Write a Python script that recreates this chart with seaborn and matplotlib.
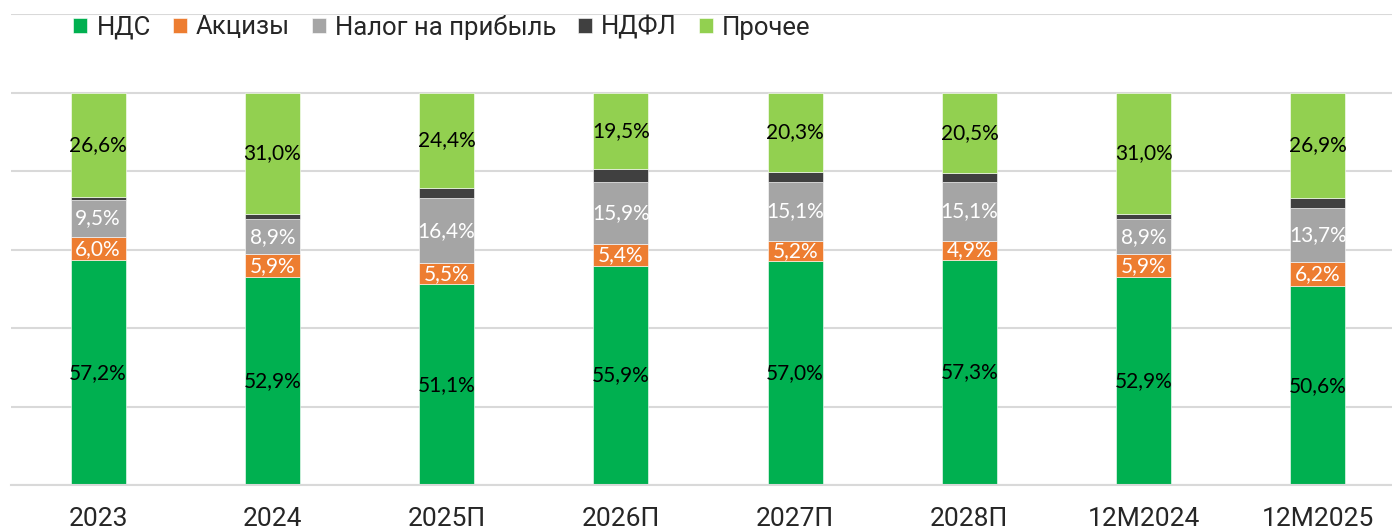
import numpy as np
import pandas as pd
import matplotlib
matplotlib.use("Agg")
import matplotlib.pyplot as plt
from matplotlib import font_manager
import seaborn as sns

# data
categories = ["2023", "2024", "2025П", "2026П", "2027П", "2028П", "12М2024", "12М2025"]
nds = [57.2, 52.9, 51.1, 55.9, 57.0, 57.3, 52.9, 50.6]
akcizy = [6.0, 5.9, 5.5, 5.4, 5.2, 4.9, 5.9, 6.2]
nalog = [9.5, 8.9, 16.4, 15.9, 15.1, 15.1, 8.9, 13.7]
ndfl = [0.7, 1.3, 2.6, 3.3, 2.4, 2.2, 1.3, 2.6]
prochee = [26.6, 31.0, 24.4, 19.5, 20.3, 20.5, 31.0, 26.9]
series_names = ["НДС", "Акцизы", "Налог на прибыль", "НДФЛ", "Прочее"]

sns.set_style("white")
names = {f.name for f in font_manager.fontManager.ttflist}
narrow = "Liberation Sans Narrow" if "Liberation Sans Narrow" in names else "Roboto"
plt.rcParams["font.family"] = [narrow, "DejaVu Sans"]

colors = ["#00B050", "#ED7D31", "#A5A5A5", "#404040", "#92D050"]
label_colors = ["black", "white", "white", None, "black"]

fig = plt.figure(figsize=(13.92, 5.29), dpi=100)
ax = fig.add_axes([11 / 1392, 44 / 529, 1394 / 1392, 471 / 529])

bottom = np.zeros(len(categories))
all_series = [nds, akcizy, nalog, ndfl, prochee]
for name, vals, col, lc in zip(series_names, all_series, colors, label_colors):
    sns.barplot(x=categories, y=vals, bottom=bottom, color=col, saturation=1,
                width=0.315, ax=ax, label=name, edgecolor="white", linewidth=0.4)
    cont = ax.containers[-1]
    if lc is not None:
        ax.bar_label(cont, labels=[f"{v:.1f}%".replace(".", ",") for v in vals],
                     label_type="center", color=lc, fontsize=15,
                     family=["Lato", "DejaVu Sans"])
    bottom = bottom + np.array(vals)

if ax.get_legend() is not None:
    ax.get_legend().remove()

ax.set_ylim(0, 120)
ax.set_xlim(-0.5, len(categories) - 0.5)
ax.set_yticks(np.arange(0, 121, 20))
ax.yaxis.grid(True, color="#D9D9D9", linewidth=1.5)
ax.set_axisbelow(True)
ax.set_yticklabels([])
ax.tick_params(axis="y", length=0)
ax.tick_params(axis="x", length=0, labelsize=19, pad=16)
for s in ["left", "right", "top"]:
    ax.spines[s].set_visible(False)
ax.spines["bottom"].set_color("#D9D9D9")
ax.spines["bottom"].set_linewidth(1.5)
ax.set_xlabel("")
ax.set_ylabel("")

handles, labels = ax.get_legend_handles_labels()
fig.legend(handles, labels, loc="center left", bbox_to_anchor=(63 / 1392, 1 - 27 / 529),
           ncol=5, frameon=False, fontsize=18.5, handlelength=0.55, handleheight=0.55,
           handletextpad=0.35, columnspacing=0.85, borderaxespad=0)

fig.savefig("out.png", dpi=100)
